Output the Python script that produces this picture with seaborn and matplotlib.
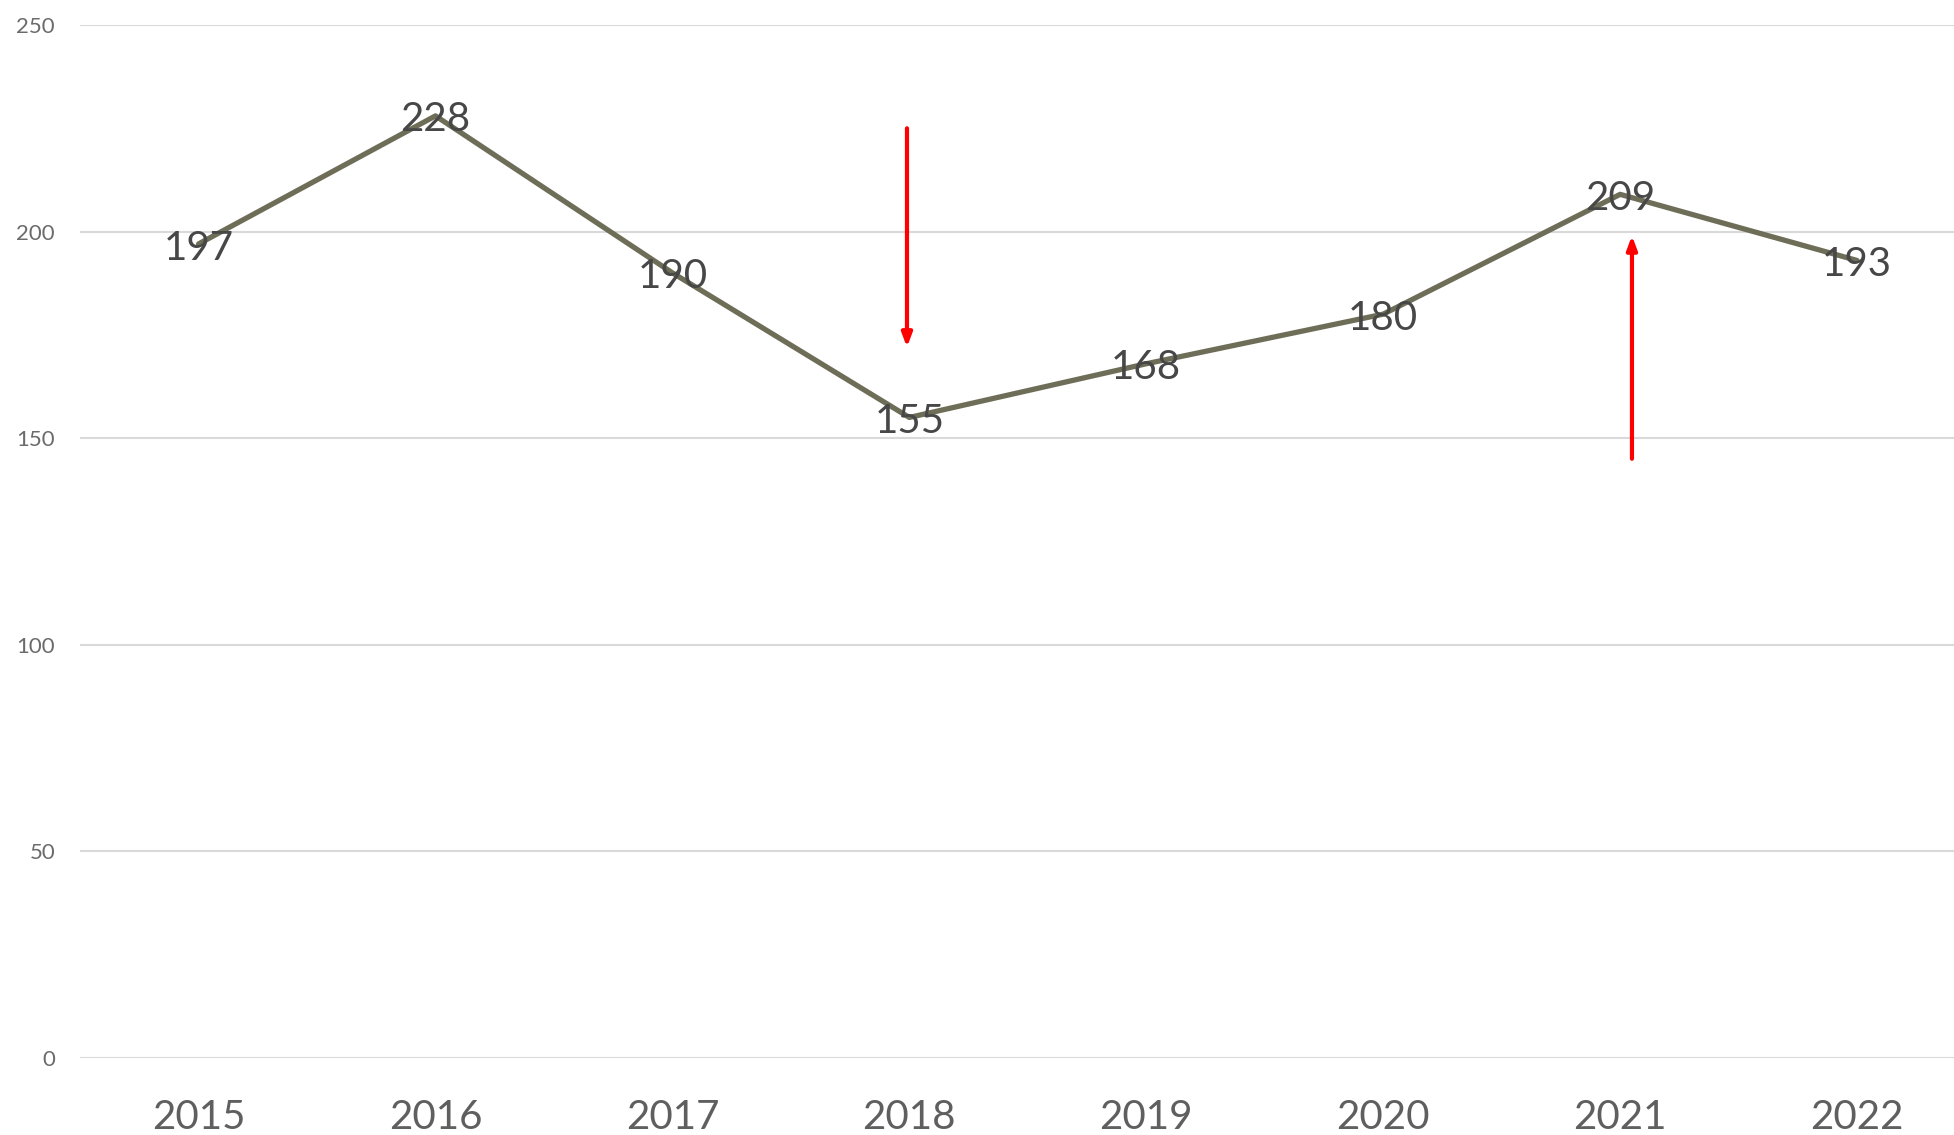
import pandas as pd
import matplotlib.pyplot as plt
import seaborn as sns

years = ["2015", "2016", "2017", "2018", "2019", "2020", "2021", "2022"]
counts = [197, 228, 190, 155, 168, 180, 209, 193]

# red arrows: (x position, start value, end value)
arrow_down = (2.99, 225, 172)
arrow_up = (6.05, 145, 199)

df = pd.DataFrame({"year": years, "count": counts})

sns.set_style("white")
plt.rcParams["font.family"] = ["Lato", "DejaVu Sans"]

fig = plt.figure(figsize=(19.54, 11.35), dpi=100)
ax = fig.add_axes([0.041, 0.068, 0.97, 0.91])

sns.lineplot(data=df, x="year", y="count", color="#6e6e58", linewidth=3.8, ax=ax, sort=False)

# value labels sit right on the points
for i, v in enumerate(counts):
    ax.text(i, v - 1, str(v), ha="center", va="center", fontsize=29, color="#474747")

for xpos, y0, y1 in [arrow_down, arrow_up]:
    ax.annotate("", xy=(xpos, y1), xytext=(xpos, y0),
                arrowprops=dict(arrowstyle="-|>,head_length=0.8,head_width=0.3",
                                color="red", lw=3, shrinkA=0, shrinkB=0))

ax.set_xlim(-0.5, 7.5)
ax.set_ylim(0, 250)
ax.set_yticks([0, 50, 100, 150, 200, 250])
ax.yaxis.grid(True, color="#d9d9d9", linewidth=1.5)
ax.set_axisbelow(True)
for s in ax.spines.values():
    s.set_visible(False)
ax.tick_params(axis="x", labelsize=29, labelcolor="#5f5f5f", length=0, pad=30)
ax.tick_params(axis="y", labelsize=16, labelcolor="#6b6b6b", length=0, pad=18)
ax.set_xlabel("")
ax.set_ylabel("")

fig.savefig("out.png", dpi=100)
